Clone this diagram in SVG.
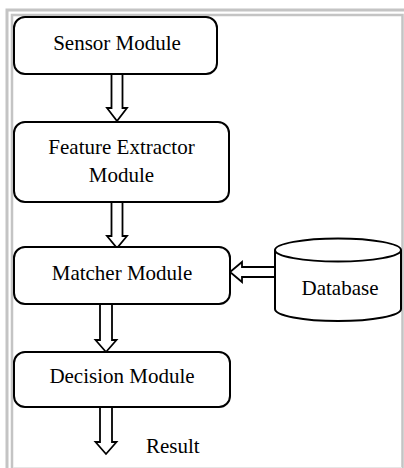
<svg xmlns="http://www.w3.org/2000/svg" width="404" height="468" viewBox="0 0 404 468">
<style>
.frame{stroke:#c4c4c4;fill:none}
.box{fill:#fff;stroke:#000;stroke-width:2}
.arr{fill:#fff;stroke:#000;stroke-width:1.8;stroke-linejoin:miter}
.t{font-family:"Liberation Serif","Times New Roman",serif;font-size:21px;fill:#000;text-anchor:middle}
</style>
<rect width="404" height="468" fill="#fff"/>
<g id="frame">
<path class="frame" stroke-width="3" d="M7 468V10H404"/>
<path class="frame" stroke-width="2.5" d="M12 468V15H402.5V468"/>
<path stroke="#e6e6e6" stroke-width="1" d="M13 467.5H402"/>
</g>
<g id="connectors">
<polygon class="arr" points="111.5,74 122.5,74 122.5,108 127,108 117,121 107,108 111.5,108"/>
<polygon class="arr" points="111.5,202 122.5,202 122.5,236 127,236 117,248 107,236 111.5,236"/>
<polygon class="arr" points="100,304 112,304 112,340 116.5,340 106,352 95.5,340 100,340"/>
<polygon class="arr" points="100,407 112,407 112,442 116.5,442 106,454 95.5,442 100,442"/>
<polygon class="arr" points="275,267 242,267 242,262 230,272 242,282 242,277 275,277"/>
</g>
<g id="sensor">
<rect class="box" x="14" y="17" width="203" height="57" rx="11"/>
<text class="t" x="117" y="50">Sensor Module</text>
</g>
<g id="feature">
<rect class="box" x="14" y="122" width="215" height="80" rx="11"/>
<text class="t" x="121.5" y="154">Feature Extractor</text>
<text class="t" x="121.5" y="182">Module</text>
</g>
<g id="matcher">
<rect class="box" x="14" y="247" width="216" height="57" rx="11"/>
<text class="t" x="122" y="280">Matcher Module</text>
</g>
<g id="decision">
<rect class="box" x="14" y="352" width="216" height="55" rx="11"/>
<text class="t" x="122" y="383">Decision Module</text>
</g>
<g id="database">
<path class="box" d="M275 250V309A63 12 0 0 0 401 309V250"/>
<ellipse class="box" cx="338" cy="250" rx="63" ry="11.5"/>
<text class="t" x="340" y="295">Database</text>
</g>
<g id="result">
<text class="t" x="146" y="453" style="text-anchor:start">Result</text>
</g>
</svg>
